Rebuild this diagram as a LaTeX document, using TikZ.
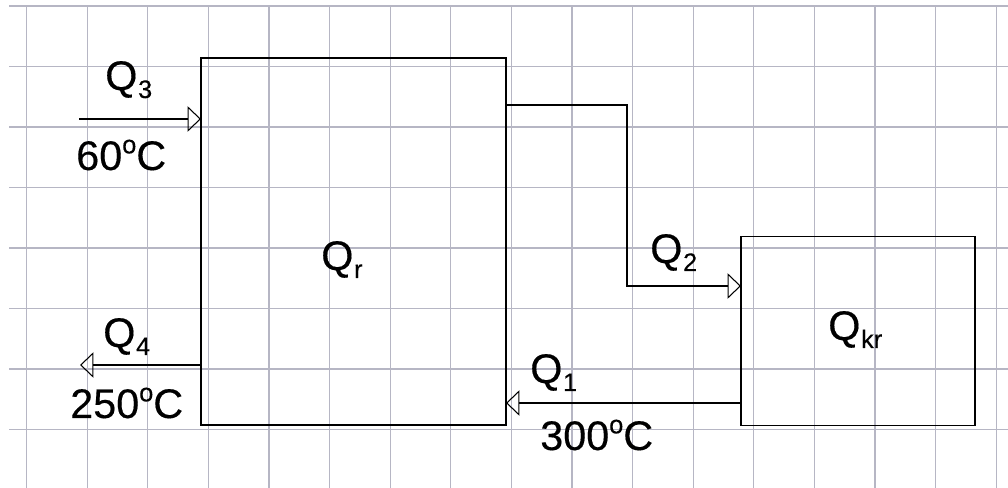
\documentclass[tikz,border=0pt]{standalone}
\usepackage{fontspec}
\setmainfont{Liberation Sans}
\usetikzlibrary{arrows.meta,positioning}
\definecolor{gridline}{RGB}{182,182,196}
\newcommand{\sub}[1]{\kern0.5pt\raisebox{-6pt}{\fontsize{19}{19}\selectfont #1}}
\newcommand{\degr}{\raisebox{12.5pt}{\fontsize{19}{19}\selectfont o}}

\begin{document}
\begin{tikzpicture}[x=0.75pt,y=-0.75pt,
    unit/.style={draw,line width=1pt,inner sep=0pt,outer sep=0pt},
    flow/.style={line width=0.8pt,-{Triangle[open,length=10pt,width=19pt]}},
    txt/.style={inner sep=0pt,anchor=base west,
      font=\fontsize{31}{35}\selectfont\addfontfeatures{FakeBold=0.35}}]
  % page and background grid
  \fill[white] (0,0) rectangle (1008,488);
  \useasboundingbox (0,0) rectangle (1008,488);
  \foreach \i in {0,...,16}
    \draw[gridline,line width=0.9pt] ({26.5+60.6*\i},6) -- ({26.5+60.6*\i},488);
  \foreach \j in {0,...,7}
    \draw[gridline,line width=0.9pt] (9,{6+60.5*\j}) -- (1008,{6+60.5*\j});
  % units
  \node[unit,minimum width=228.75pt,minimum height=275.25pt] (qr) at (353.5,241.5) {};
  \node[unit,minimum width=175.5pt,minimum height=141.75pt] (qkr) at (858,331) {};
  \node[txt] (qrlabel) at (321,270) {Q\sub{r}};
  \node[txt] (qkrlabel) at (828,340) {Q\sub{kr}};
  % heat flows
  \coordinate (q3in) at (79,119);
  \coordinate (q4out) at (80,365);
  \coordinate (q2a) at (627,105);
  \coordinate (q2b) at (627,286);
  \coordinate (q1) at (620,403);
  \draw[flow] (q3in) -- (q3in -| qr.west);
  \draw[flow] (q4out -| qr.west) -- (q4out);
  \draw[flow] (q2a -| qr.east) -- (q2a) -- (q2b) -- (q2b -| qkr.west);
  \draw[flow] (q1 -| qkr.west) -- (q1 -| qr.east);
  % labels
  \node[txt] (q3) at (105,90) {Q\sub{3}};
  \node[txt] (t3) at (76,170) {60\degr C};
  \node[txt] (q4) at (103,347) {Q\sub{4}};
  \node[txt] (t4) at (70,418) {250\degr C};
  \node[txt] (q2) at (650,263) {Q\sub{2}};
  \node[txt] (q1label) at (530,383) {Q\sub{1}};
  \node[txt] (t1) at (540,450) {300\degr C};
\end{tikzpicture}
\end{document}
